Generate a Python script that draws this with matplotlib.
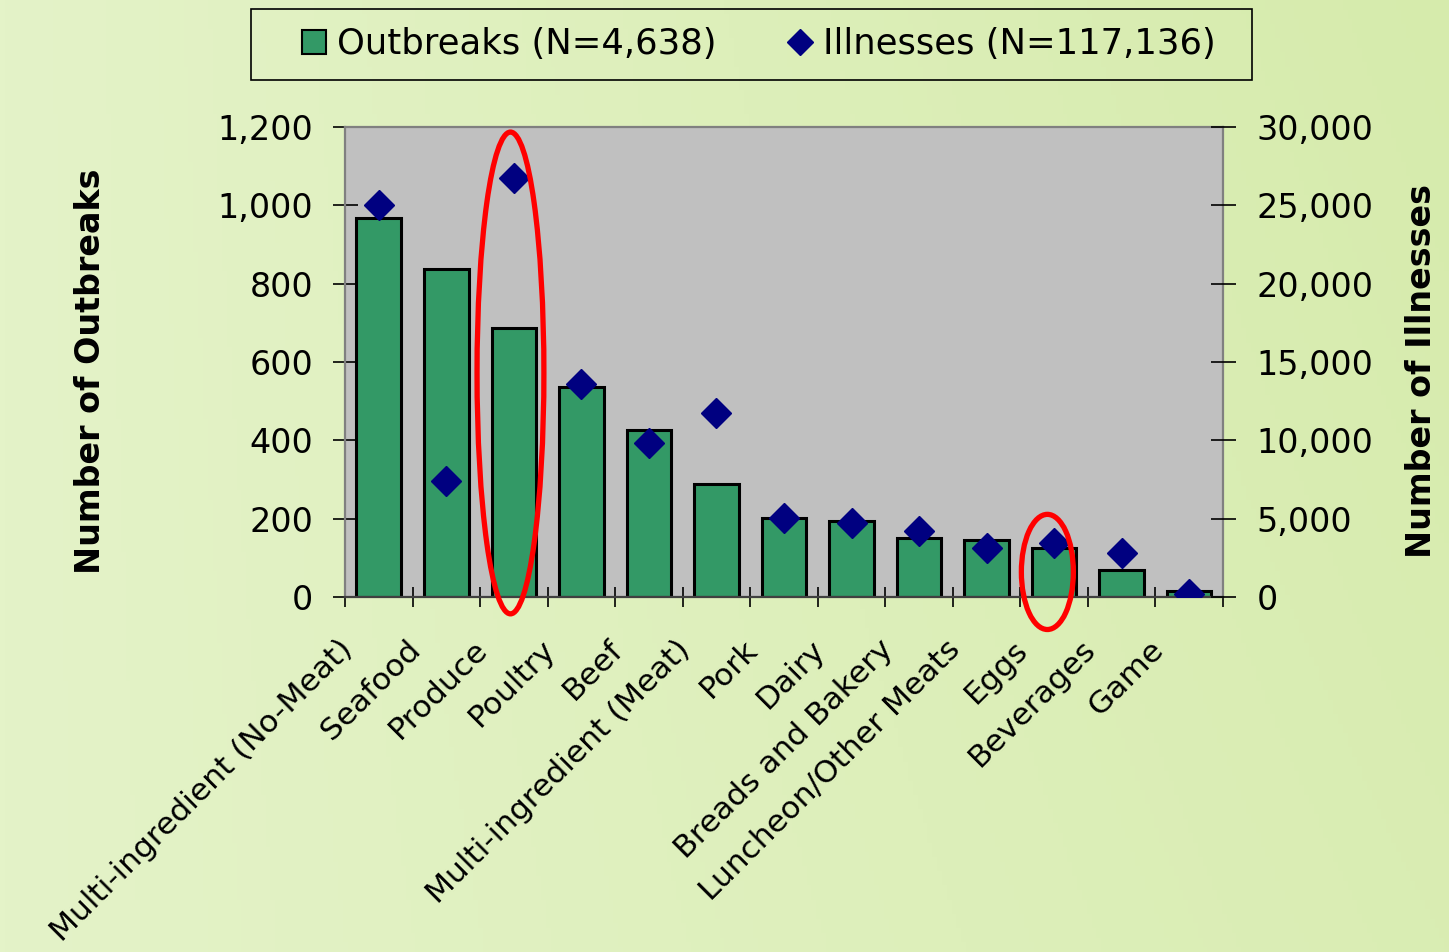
import matplotlib
matplotlib.use("Agg")
import matplotlib.pyplot as plt
import numpy as np
from matplotlib.patches import Ellipse, Patch, Rectangle
from matplotlib.lines import Line2D

plt.rcParams['font.family'] = ['DejaVu Sans']

categories = ['Multi-ingredient (No-Meat)', 'Seafood', 'Produce', 'Poultry', 'Beef',
              'Multi-ingredient (Meat)', 'Pork', 'Dairy', 'Breads and Bakery',
              'Luncheon/Other Meats', 'Eggs', 'Beverages', 'Game']
outbreaks = [968, 837, 687, 536, 426, 288, 202, 194, 151, 146, 125, 69, 15]
illnesses = [25000, 7400, 26750, 13600, 9830, 11750, 5040, 4720, 4210, 3130, 3450, 2810, 190]

left_ticks = [0, 200, 400, 600, 800, 1000, 1200]
left_labels = ['0', '200', '400', '600', '800', '1,000', '1,200']
right_ticks = [0, 5000, 10000, 15000, 20000, 25000, 30000]
right_labels = ['0', '5,000', '10,000', '15,000', '20,000', '25,000', '30,000']

fig = plt.figure(figsize=(14.49, 9.52), dpi=100)

# soft green gradient background
bg = fig.add_axes([0, 0, 1, 1])
bg.axis('off')
xx, yy = np.meshgrid(np.linspace(0, 1, 300), np.linspace(0, 1, 200))
t = np.clip(0.75 * xx + 0.25 * (1 - yy) * xx, 0, 1)
c1 = np.array([228, 243, 200]) / 255
c2 = np.array([214, 235, 172]) / 255
img = c1 + (c2 - c1) * t[..., None]
bg.imshow(img, aspect='auto', extent=[0, 1, 0, 1], origin='upper')
bg.set_xlim(0, 1)
bg.set_ylim(0, 1)

ax = fig.add_axes([0.2381, 0.3729, 0.6059, 0.4937])
ax.set_facecolor('#C0C0C0')
x = np.arange(len(categories))
ax.bar(x, outbreaks, width=0.66, color='#339966', edgecolor='black', linewidth=2.2, zorder=2)
ax.set_xlim(-0.5, len(categories) - 0.5)
ax.set_ylim(0, 1200)
ax.set_yticks(left_ticks)
ax.set_yticklabels(left_labels)
ax.set_xticks(np.arange(len(categories) + 1) - 0.5)
ax.set_xticklabels([])
# category names sit a little left of the bar centres, as in the original
ax.set_xticks(x - 0.3, minor=True)
ax.set_xticklabels(categories, minor=True, rotation=45, ha='right', va='top', fontsize=22.5)
ax.tick_params(axis='x', which='minor', length=0, pad=27)
ax.tick_params(axis='x', which='major', direction='inout', length=14, width=1.2)
ax.tick_params(axis='y', direction='inout', length=18, width=1.2, labelsize=24, pad=14)
for s in ax.spines.values():
    s.set_color('#808080')
    s.set_linewidth(1.6)
ax.spines['bottom'].set_color('#404040')
ax.set_ylabel('Number of Outbreaks', fontsize=24, fontweight='bold')
ax.yaxis.set_label_coords(-0.271, 0.48)

ax2 = ax.twinx()
ax2.plot(x, illnesses, linestyle='none', marker='D', markersize=15, color='#000080', zorder=3)
ax2.set_ylim(0, 30000)
ax2.set_yticks(right_ticks)
ax2.set_yticklabels(right_labels)
ax2.tick_params(axis='y', direction='inout', length=18, width=1.2, labelsize=24, pad=15)
for s in ax2.spines.values():
    s.set_visible(False)
ax2.set_ylabel('Number of Illnesses', fontsize=24, fontweight='bold')
ax2.yaxis.set_label_coords(1.207, 0.48)

# red highlight ellipses
ax2.add_patch(Ellipse((9.9, 64 * 25), 0.77, 294 * 25, fill=False, edgecolor='red',
                      linewidth=3.8, clip_on=False, zorder=10))
ax2.add_patch(Ellipse((1.95, 572 * 25), 0.99, 1230 * 25, fill=False, edgecolor='red',
                      linewidth=3.8, clip_on=False, zorder=10))

# legend: box drawn separately so its padding can match the original
fig.patches.append(Rectangle((0.1732, 0.9160), 0.6908, 0.0746, transform=fig.transFigure,
                             fill=False, edgecolor='black', linewidth=1.2))
handles = [Patch(facecolor='#339966', edgecolor='black', linewidth=1.5),
           Line2D([], [], linestyle='none', marker='D', markersize=13, color='#000080')]
leg = fig.legend(handles, ['Outbreaks (N=4,638)', 'Illnesses (N=117,136)'],
                 loc='center', bbox_to_anchor=(0.5235, 0.9533), ncol=2, fontsize=25.5,
                 frameon=False, handlelength=0.7, handleheight=0.7, handletextpad=0.3,
                 columnspacing=2.0, borderpad=0, borderaxespad=0)

fig.savefig('out.png', dpi=100)
